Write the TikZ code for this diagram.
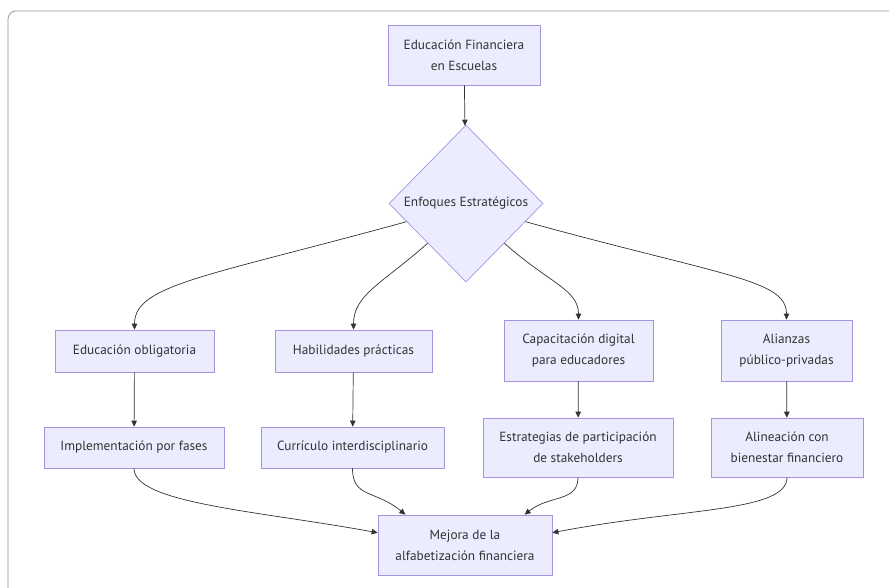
\documentclass[tikz,border=0pt]{standalone}
\usepackage{fontspec}
\setmainfont{PT Sans}
\usetikzlibrary{shapes.geometric,arrows.meta}
\definecolor{boxfill}{HTML}{ECECFF}
\definecolor{boxline}{HTML}{A593E0}
\definecolor{edgecol}{HTML}{333333}
\definecolor{framecol}{HTML}{999999}
\begin{document}
\begin{tikzpicture}[x=1pt,y=-1pt,
  box/.style={draw=boxline,fill=boxfill,line width=0.7pt,inner sep=0pt,
    align=center,text=edgecol,font=\fontsize{13.3}{21}\selectfont},
  decision/.style={box,diamond,aspect=1},
  flow/.style={draw=edgecol,line width=0.7pt,-{Triangle[length=6pt,width=5.5pt]}}]
\useasboundingbox (0,0) rectangle (889,587);
% outer frame
\draw[framecol,line width=0.8pt,rounded corners=8pt] (8,600) -- (8,11) -- (900,11);

% nodes
\node[box,minimum width=152,minimum height=60] (top) at (464,55) {Educación Financiera\\en Escuelas};
\node[decision,minimum width=154,minimum height=157] (dia) at (466,203.5) {Enfoques Estratégicos};

\node[box,minimum width=159,minimum height=42] (ob) at (134.5,351) {Educación obligatoria};
\node[box,minimum width=157,minimum height=42] (ha) at (353.5,351) {Habilidades prácticas};
\node[box,minimum width=149,minimum height=61] (ca) at (578.5,350.5) {Capacitación digital\\para educadores};
\node[box,minimum width=131,minimum height=61] (ali) at (786.5,350.5) {Alianzas\\público-privadas};

\node[box,minimum width=180,minimum height=41] (ip) at (134,447.5) {Implementación por fases};
\node[box,minimum width=183,minimum height=41] (cu) at (352.5,447.5) {Currículo interdisciplinario};
\node[box,minimum width=190,minimum height=59] (es) at (578,447.5) {Estrategias de participación\\de stakeholders};
\node[box,minimum width=152,minimum height=59] (aln) at (787,447.5) {Alineación con\\bienestar financiero};

\node[box,minimum width=174,minimum height=60] (mej) at (465,545) {Mejora de la\\alfabetización financiera};

% connectors
\draw[flow] (top) -- (dia);
\draw[flow] (dia.197) .. controls +(-200,55) and +(0,-45) .. (ob.north);
\draw[flow] (dia.226) .. controls +(-45,40) and +(0,-35) .. (ha.north);
\draw[flow] (dia.314) .. controls +(45,40) and +(0,-30) .. (ca.north);
\draw[flow] (dia.343) .. controls +(200,55) and +(0,-40) .. (ali.north);

\draw[flow] (ob) -- (ip);
\draw[flow] (ha) -- (cu);
\draw[flow] (ca) -- (es);
\draw[flow] (ali) -- (aln);

\draw[flow] (ip.south) .. controls +(0,35) and +(-120,-22) .. (mej.172);
\draw[flow] (cu.south) .. controls +(0,30) and +(-30,-25) .. (mej.153);
\draw[flow] (es.south) .. controls +(0,25) and +(25,-20) .. (mej.27);
\draw[flow] (aln.south) .. controls +(0,35) and +(130,-25) .. (mej.8);
\end{tikzpicture}
\end{document}
